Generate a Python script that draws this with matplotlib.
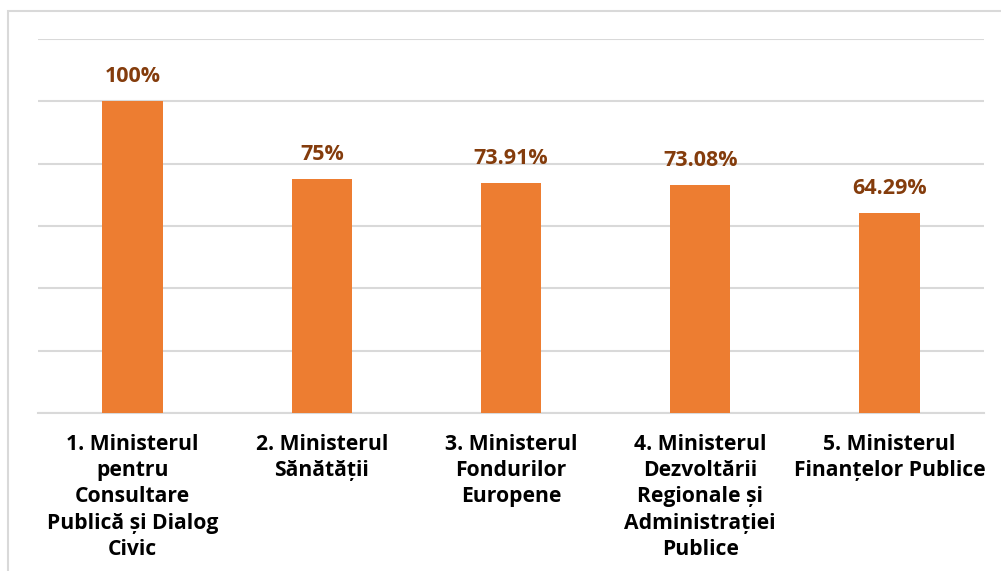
import matplotlib.pyplot as plt
from matplotlib.patches import Rectangle

categories = [
    "1. Ministerul\npentru\nConsultare\nPublică și Dialog\nCivic",
    "2. Ministerul\nSănătății",
    "3. Ministerul\nFondurilor\nEuropene",
    "4. Ministerul\nDezvoltării\nRegionale și\nAdministrației\nPublice",
    "5. Ministerul\nFinanțelor Publice",
]
values = [100, 75, 73.91, 73.08, 64.29]
labels = ["100%", "75%", "73.91%", "73.08%", "64.29%"]

W, H = 1001, 571
fig = plt.figure(figsize=(W / 100, H / 100), dpi=100)
fig.patch.set_facecolor("white")

# outer frame of the chart box
fig.patches.append(Rectangle((8 / W, -0.05), 1.1, (H - 11) / H + 0.05,
                             transform=fig.transFigure, fill=False,
                             edgecolor="#D9D9D9", linewidth=1.5))

ax = fig.add_axes([38 / W, (H - 413) / H, (984 - 38) / W, (413 - 39) / H])
x = range(len(values))
ax.bar(x, values, width=0.32, color="#ED7D31", zorder=3)
ax.set_ylim(0, 120)
ax.set_xlim(-0.5, len(values) - 0.5)
ax.set_yticks(range(0, 121, 20))
ax.yaxis.grid(True, color="#D9D9D9", linewidth=1.5, zorder=0)
ax.set_yticklabels([])
ax.tick_params(axis="both", length=0)
for s in ["top", "right", "left"]:
    ax.spines[s].set_visible(False)
ax.spines["bottom"].set_color("#D9D9D9")
ax.spines["bottom"].set_linewidth(1.5)

for i, (v, lab) in enumerate(zip(values, labels)):
    ax.annotate(lab, (i, v), xytext=(0, 10), textcoords="offset points",
                ha="center", va="bottom", fontsize=15.5, fontweight="bold",
                color="#843C0C", family="Open Sans")

ax.set_xticks(list(x))
ax.set_xticklabels(categories, fontsize=15.2, fontweight="bold",
                   family="Open Sans", color="black", linespacing=1.33,
                   va="top")
ax.tick_params(axis="x", pad=15)

fig.savefig("out.png", dpi=100, facecolor="white")
